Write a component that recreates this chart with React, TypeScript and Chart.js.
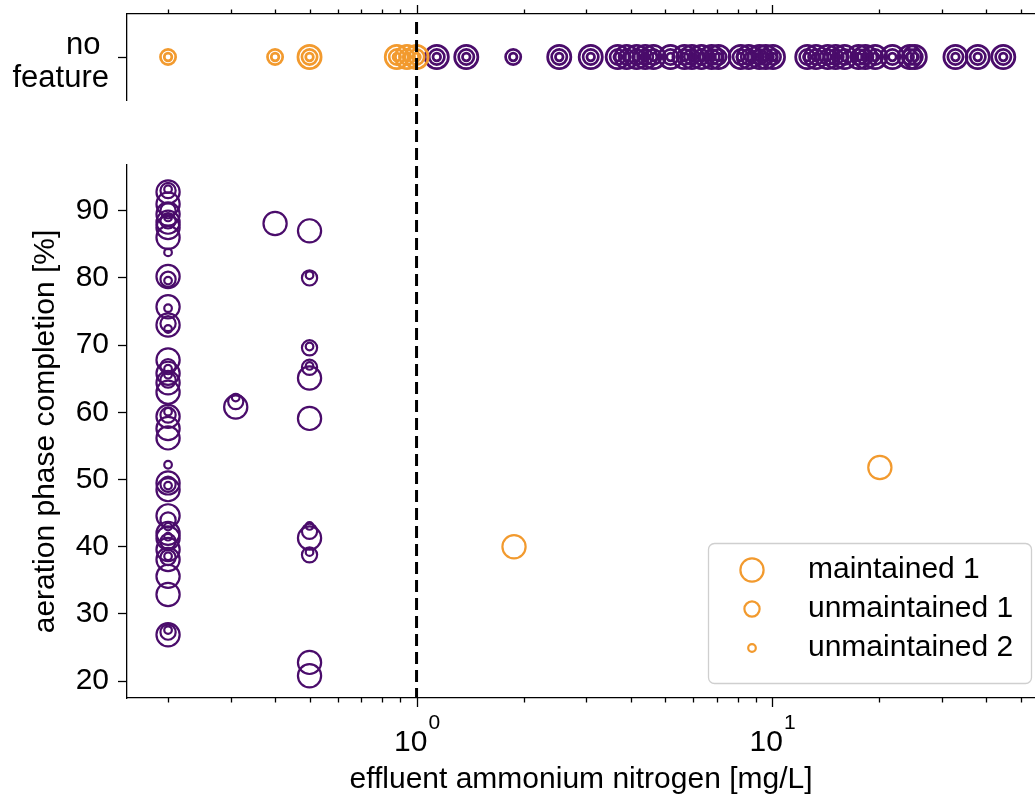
import React, { useEffect, useRef } from 'react';
import { Chart, registerables } from 'chart.js';

Chart.register(...registerables);

const FONT = "'Liberation Sans', Arial, Helvetica, sans-serif";
const ORANGE = '#f29a2e';
const PURPLE = '#4a0c6b';

// ---------- axis / legend data ----------
const xMin = 0.1533;
const xMax = 54.9;
const threshold = 1;
const minorTicks = [0.2, 0.3, 0.4, 0.5, 0.6, 0.7, 0.8, 0.9, 2, 3, 4, 5, 6, 7, 8, 9, 20, 30, 40, 50];
const majorTicks = [1, 10];
const majorExponents = ['0', '1'];
const yTicks = [20, 30, 40, 50, 60, 70, 80, 90];
const yMin = 17.5;
const yMax = 96.8;
const legendLabels = ['maintained 1', 'unmaintained 1', 'unmaintained 2'];
const topRowLabel = ['no ', 'feature'];
const xTitle = 'effluent ammonium nitrogen [mg/L]';
const yTitle = 'aeration phase completion [%]';

// ---------- top panel ("no feature") x positions ----------
const topOrangeM1 = [0.5, 0.88, 0.94, 1.0];
const topOrangeU1 = [0.2, 0.4, 0.5, 0.88, 0.94, 1.0];
const topOrangeU2 = [0.2, 0.4, 0.5, 0.88, 0.94, 1.0];
const topPurpleM1 = [1.14, 1.38, 2.52, 3.09, 3.68, 3.9, 4.16, 4.4, 4.64, 5.18, 5.67, 5.95, 6.33, 6.76, 7.07, 8.16, 8.6, 9.21, 9.6, 10.06, 12.56, 13.3, 14.33, 15.1, 16.0, 17.5, 18.3, 19.5, 21.8, 24.4, 25.2, 32.8, 37.9, 44.7];
const topPurpleU1 = [1.14, 1.38, 1.87, 2.52, 3.09, 3.68, 3.9, 4.16, 4.4, 4.64, 5.18, 5.67, 5.95, 6.33, 6.76, 7.07, 8.16, 8.6, 9.21, 9.6, 10.06, 12.56, 13.3, 14.33, 15.1, 16.0, 17.5, 18.3, 19.5, 21.8, 24.4, 25.2, 32.8, 37.9, 44.7];
const topPurpleU2 = [1.14, 1.38, 1.87, 2.52, 3.09, 3.68, 3.9, 4.16, 4.4, 4.64, 5.18, 5.67, 5.95, 6.33, 6.76, 7.07, 8.16, 8.6, 9.21, 9.6, 10.06, 12.56, 13.3, 14.33, 15.1, 16.0, 17.5, 18.3, 19.5, 21.8, 24.4, 25.2, 32.8, 37.9, 44.7];

// ---------- bottom panel [x, y] ----------
const purpleM1: [number, number][] = [
  [0.2, 92.8], [0.2, 91.0], [0.2, 89.5], [0.2, 88.3], [0.2, 87.5], [0.2, 86.0], [0.2, 80.2], [0.2, 75.7],
  [0.2, 73.0], [0.2, 67.8], [0.2, 65.8], [0.2, 64.4], [0.2, 63.0], [0.2, 59.4], [0.2, 57.6], [0.2, 56.2],
  [0.2, 49.5], [0.2, 48.5], [0.2, 44.6], [0.2, 42.0], [0.2, 41.3], [0.2, 39.6], [0.2, 38.1], [0.2, 35.6],
  [0.2, 32.9], [0.2, 26.9],
  [0.31, 60.8], [0.4, 88.1],
  [0.5, 87.0], [0.5, 65.1], [0.5, 59.1], [0.5, 41.3], [0.5, 22.8], [0.5, 20.8],
];
const purpleU1: [number, number][] = [
  [0.2, 93.0], [0.2, 90.0], [0.2, 88.5], [0.2, 79.8], [0.2, 73.2], [0.2, 66.8], [0.2, 64.8], [0.2, 59.6],
  [0.2, 49.3], [0.2, 44.0], [0.2, 40.8], [0.2, 38.4], [0.2, 27.3],
  [0.31, 61.6],
  [0.5, 80.0], [0.5, 69.6], [0.5, 66.7], [0.5, 42.3], [0.5, 38.8],
];
const purpleU2: [number, number][] = [
  [0.2, 93.2], [0.2, 89.0], [0.2, 83.8], [0.2, 79.6], [0.2, 75.5], [0.2, 72.4], [0.2, 66.5], [0.2, 65.6],
  [0.2, 60.1], [0.2, 52.2], [0.2, 49.1], [0.2, 43.0], [0.2, 41.5], [0.2, 38.6], [0.2, 27.6],
  [0.31, 62.2],
  [0.5, 80.4], [0.5, 69.8], [0.5, 66.9], [0.5, 43.1], [0.5, 39.2],
];
const orangeM1: [number, number][] = [[1.88, 40.0], [20.1, 51.8]];

// ---------- styles ----------
const RADII = [11.6, 7.6, 3.8];
const RING_W = 2.2;
const TOP_RING_W = 2.7;
const DASH = [12, 6];
const TOP_DASH_START = 22;
const SPLIT = 160;

function ring(data: { x: number; y: number }[], color: string, r: number, w: number, label: string) {
  return {
    label,
    data,
    showLine: false,
    pointRadius: r,
    pointHoverRadius: r,
    pointBorderWidth: w,
    pointBorderColor: color,
    pointBackgroundColor: 'rgba(0,0,0,0)',
    pointStyle: 'circle',
  };
}

function drawXTicks(chart: any, up: boolean) {
  const { ctx, chartArea, scales } = chart;
  const x = scales.x;
  const y0 = up ? chartArea.top : chartArea.bottom;
  const dir = up ? -1 : 1;
  ctx.save();
  ctx.strokeStyle = '#000';
  ctx.lineWidth = 1.3;
  ctx.beginPath();
  for (const v of minorTicks) {
    const px = Math.round(x.getPixelForValue(v)) + 0.5;
    ctx.moveTo(px, y0);
    ctx.lineTo(px, y0 + dir * 4.5);
  }
  for (const v of majorTicks) {
    const px = Math.round(x.getPixelForValue(v)) + 0.5;
    ctx.moveTo(px, y0);
    ctx.lineTo(px, y0 + dir * 9);
  }
  ctx.stroke();
  ctx.restore();
}

function drawThreshold(chart: any, yFrom: number, yTo: number, offset: number) {
  const { ctx, scales } = chart;
  const px = scales.x.getPixelForValue(threshold);
  ctx.save();
  ctx.strokeStyle = '#000';
  ctx.lineWidth = 3;
  ctx.setLineDash(DASH);
  ctx.lineDashOffset = offset;
  ctx.beginPath();
  ctx.moveTo(px, yFrom);
  ctx.lineTo(px, yTo);
  ctx.stroke();
  ctx.restore();
}

const topDeco = {
  id: 'topDeco',
  afterDatasetsDraw(chart: any) {
    drawXTicks(chart, true);
    drawThreshold(chart, TOP_DASH_START, chart.height, 0);
  },
};

const bottomDeco = {
  id: 'bottomDeco',
  afterDatasetsDraw(chart: any) {
    const { ctx, chartArea, scales } = chart;
    drawXTicks(chart, false);
    const period = DASH[0] + DASH[1];
    drawThreshold(chart, 0, chartArea.bottom, (SPLIT - TOP_DASH_START) % period);
    // tick labels 10^n
    ctx.save();
    ctx.fillStyle = '#000';
    ctx.textAlign = 'left';
    ctx.textBaseline = 'alphabetic';
    majorTicks.forEach((v, i) => {
      const px = scales.x.getPixelForValue(v);
      ctx.font = `30px ${FONT}`;
      const w1 = ctx.measureText('10').width;
      ctx.font = `21px ${FONT}`;
      const w2 = ctx.measureText(majorExponents[i]).width;
      const start = px - (w1 + w2) / 2;
      ctx.font = `30px ${FONT}`;
      ctx.fillText('10', start, chartArea.bottom + 53);
      ctx.font = `21px ${FONT}`;
      ctx.fillText(majorExponents[i], start + w1 + 1, chartArea.bottom + 31);
    });
    ctx.restore();
  },
  afterDraw(chart: any) {
    const { ctx, chartArea } = chart;
    const w = 323;
    const h = 140;
    const left = chartArea.right - 4 - w;
    const top = chartArea.bottom - 15 - h;
    ctx.save();
    ctx.beginPath();
    ctx.roundRect(left + 0.5, top + 0.5, w, h, 6);
    ctx.fillStyle = 'rgba(255,255,255,0.85)';
    ctx.fill();
    ctx.strokeStyle = '#cfcfcf';
    ctx.lineWidth = 1.3;
    ctx.stroke();
    const rows = [27, 66, 105];
    legendLabels.forEach((lab, i) => {
      const cy = top + rows[i];
      ctx.beginPath();
      ctx.arc(left + 44, cy, RADII[i], 0, Math.PI * 2);
      ctx.strokeStyle = ORANGE;
      ctx.lineWidth = RING_W;
      ctx.stroke();
      ctx.fillStyle = '#000';
      ctx.font = `30px ${FONT}`;
      ctx.textAlign = 'left';
      ctx.textBaseline = 'middle';
      ctx.fillText(lab, left + 100, cy);
    });
    ctx.restore();
  },
};

const pts = (arr: number[]) => arr.map((x) => ({ x, y: 0 }));
const xy = (arr: [number, number][]) => arr.map(([x, y]) => ({ x, y }));

function fitX(h: number) {
  return (s: any) => {
    s.height = h;
    s.paddingLeft = 0;
    s.paddingRight = 0;
    s.paddingTop = 0;
    s.paddingBottom = 0;
  };
}
function fitY(w: number) {
  return (s: any) => {
    s.width = w;
    s.paddingLeft = 0;
    s.paddingRight = 0;
    s.paddingTop = 0;
    s.paddingBottom = 0;
  };
}

export default function App() {
  const topRef = useRef<HTMLCanvasElement>(null);
  const botRef = useRef<HTMLCanvasElement>(null);

  useEffect(() => {
    Chart.defaults.font.family = FONT;
    Chart.defaults.color = '#000';
    const top = new Chart(topRef.current as HTMLCanvasElement, {
      type: 'scatter',
      data: {
        datasets: [
          ring(pts(topOrangeM1), ORANGE, RADII[0], TOP_RING_W, legendLabels[0]),
          ring(pts(topOrangeU1), ORANGE, RADII[1], TOP_RING_W, legendLabels[1]),
          ring(pts(topOrangeU2), ORANGE, RADII[2], TOP_RING_W, legendLabels[2]),
          ring(pts(topPurpleM1), PURPLE, RADII[0], TOP_RING_W, legendLabels[0]),
          ring(pts(topPurpleU1), PURPLE, RADII[1], TOP_RING_W, legendLabels[1]),
          ring(pts(topPurpleU2), PURPLE, RADII[2], TOP_RING_W, legendLabels[2]),
        ] as any,
      },
      options: {
        animation: false,
        responsive: true,
        maintainAspectRatio: false,
        events: [],
        layout: { autoPadding: false, padding: { left: 0, right: 0, top: 0, bottom: 60 } },
        plugins: { legend: { display: false }, tooltip: { enabled: false } },
        scales: {
          x: {
            type: 'logarithmic',
            position: 'top',
            min: xMin,
            max: xMax,
            bounds: 'data',
            ticks: { display: false },
            grid: { display: false },
            border: { display: true, color: '#000', width: 1.3 },
            afterFit: fitX(14),
          },
          y: {
            type: 'linear',
            min: -1,
            max: 1,
            afterBuildTicks(s: any) { s.ticks = [{ value: 0 }]; },
            ticks: {
              callback: () => topRowLabel,
              font: { size: 31, lineHeight: 1.07 },
              color: '#000',
              padding: 9,
              labelOffset: 5,
            },
            grid: { display: true, drawOnChartArea: false, drawTicks: true, tickLength: 9, tickColor: '#000', tickWidth: 1.3 },
            border: { display: true, color: '#000', width: 1.3 },
            afterFit: fitY(127),
          },
        },
      } as any,
      plugins: [topDeco],
    });

    const bottom = new Chart(botRef.current as HTMLCanvasElement, {
      type: 'scatter',
      data: {
        datasets: [
          ring(xy(orangeM1), ORANGE, RADII[0], RING_W, legendLabels[0]),
          ring(xy(purpleM1), PURPLE, RADII[0], RING_W, legendLabels[0]),
          ring(xy(purpleU1), PURPLE, RADII[1], RING_W, legendLabels[1]),
          ring(xy(purpleU2), PURPLE, RADII[2], RING_W, legendLabels[2]),
        ] as any,
      },
      options: {
        animation: false,
        responsive: true,
        maintainAspectRatio: false,
        events: [],
        layout: { autoPadding: false, padding: { left: 0, right: 0, top: 5, bottom: 0 } },
        plugins: { legend: { display: false }, tooltip: { enabled: false } },
        scales: {
          x: {
            type: 'logarithmic',
            position: 'bottom',
            min: xMin,
            max: xMax,
            bounds: 'data',
            ticks: { display: false },
            grid: { display: false },
            border: { display: true, color: '#000', width: 1.3 },
            title: { display: true, text: xTitle, font: { size: 30 }, color: '#000', padding: { top: 0, bottom: 1 } },
            afterFit: fitX(101),
          },
          y: {
            type: 'linear',
            min: yMin,
            max: yMax,
            afterBuildTicks(s: any) { s.ticks = yTicks.map((v) => ({ value: v })); },
            ticks: { font: { size: 30 }, color: '#000', padding: 9 },
            grid: { display: true, drawOnChartArea: false, drawTicks: true, tickLength: 9, tickColor: '#000', tickWidth: 1.3 },
            border: { display: true, color: '#000', width: 1.3 },
            title: { display: true, text: yTitle, font: { size: 30 }, color: '#000', padding: { top: 28, bottom: 0 } },
            afterFit: fitY(127),
          },
        },
      } as any,
      plugins: [bottomDeco],
    });

    return () => {
      top.destroy();
      bottom.destroy();
    };
  }, []);

  return (
    <div style={{ position: 'absolute', left: 0, top: 0, width: 1035, height: 799, background: '#fff' }}>
      <div style={{ position: 'absolute', left: 0, top: 0, width: 1035, height: SPLIT }}>
        <canvas ref={topRef} />
      </div>
      <div style={{ position: 'absolute', left: 0, top: SPLIT, width: 1035, height: 799 - SPLIT }}>
        <canvas ref={botRef} />
      </div>
    </div>
  );
}
